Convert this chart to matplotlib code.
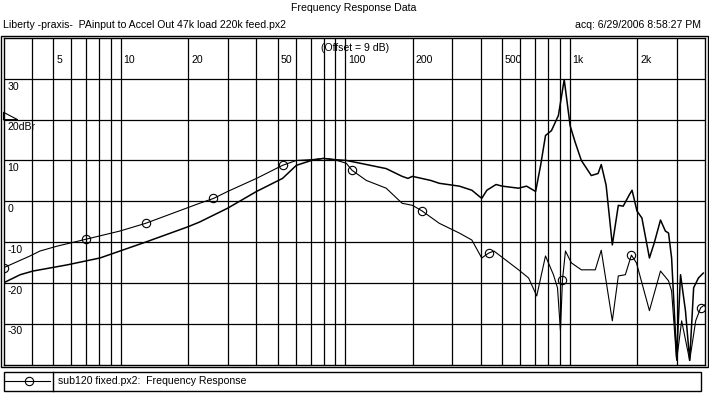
import matplotlib.pyplot as plt
from matplotlib.patches import Rectangle
from matplotlib.lines import Line2D
import matplotlib.transforms as mtransforms

plt.rcParams['font.family'] = ['Liberation Sans', 'DejaVu Sans']
plt.rcParams['font.size'] = 7.6

# curve with markers: sub120 fixed.px2
f_sub = [3.0, 3.94, 4.36, 5.2, 7.0, 9.9, 12.9, 22.4, 25.9, 29.9, 40.2, 52.5,
         60.5, 70.6, 79.8, 89.3, 101, 107, 124, 152, 179, 199, 220, 262, 322,
         366, 405, 435, 459, 518, 591, 655, 712, 779, 845, 881, 908, 927, 956,
         1016, 1125, 1298, 1380, 1546, 1644, 1767, 1880, 1980, 2262, 2534,
         2752, 2840, 2990, 3148, 3418, 3636, 3826, 3980]
db_sub = [-16.3, -13.4, -12.2, -11.0, -9.3, -7.3, -5.4, -0.5, 0.7, 2.4, 5.6, 8.8,
          10.0, 10.2, 10.5, 10.2, 9.3, 7.6, 5.1, 3.2, -0.5, -1.0, -2.4, -5.4, -7.8,
          -9.5, -13.9, -12.7, -12.2, -14.4, -16.8, -18.8, -23.2, -13.4, -18.0, -21.2, -31.7, -19.3, -12.2,
          -15.1, -16.8, -16.8, -12.0, -29.3, -18.3, -18.0, -13.2, -15.1, -26.8, -17.1,
          -19.5, -22.0, -39.0, -29.3, -39.0, -29.3, -26.1, -25.4]

# marker positions on that curve
f_mark = [3.0, 7.0, 12.9, 25.7, 52.5, 107, 220, 435, 927, 1880, 3826]
db_mark = [-16.3, -9.3, -5.4, 0.9, 8.8, 7.6, -2.4, -12.7, -19.3, -13.2, -26.1]

# second curve, no markers
f_acc = [3.0, 3.56, 4.06, 5.75, 8.07, 9.9, 12.9, 19.8, 22.4, 29.9, 40.2, 52.5,
         60.5, 70.6, 79.8, 89.3, 101, 124, 152, 179, 190, 199, 240, 262, 322,
         366, 405, 427, 469, 500, 591, 641, 704, 741, 779, 828, 889, 944,
         1003, 1054, 1125, 1246, 1336, 1380, 1451, 1546, 1644, 1729, 1837,
         1893, 1991, 2094, 2262, 2377, 2534, 2664, 2752, 2840, 2990, 3112,
         3273, 3418, 3560, 3740, 3930]
db_acc = [-20.0, -18.0, -17.1, -15.6, -13.9, -12.2, -10.0, -6.3, -5.1, -1.7, 2.4, 5.6,
          8.8, 10.0, 10.5, 10.2, 10.0, 9.0, 8.0, 6.1, 5.6, 6.1, 5.1, 4.4, 3.7,
          2.7, 0.7, 2.7, 4.1, 3.7, 3.2, 3.7, 2.4, 8.8, 16.1, 17.3, 21.0, 29.8,
          18.5, 14.6, 10.0, 6.3, 6.8, 9.0, 3.9, -10.7, -1.0, -1.2, 1.5,
          2.7, -2.4, -4.1, -13.9, -10.2, -4.6, -7.3, -7.8, -13.9, -38.3, -18.0,
          -26.8, -39.0, -21.2, -18.8, -17.6]

xgrid = [4, 5, 6, 7, 8, 9, 10, 20, 30, 40, 50, 60, 70, 80, 90, 100,
         200, 300, 400, 500, 600, 700, 800, 900, 1000, 2000, 3000]
xlab_pos = [5, 10, 20, 50, 100, 200, 500, 1000, 2000]
xlab_txt = ['5', '10', '20', '50', '100', '200', '500', '1k', '2k']
ygrid = [-30, -20, -10, 0, 10, 20, 30]
ylab_txt = ['-30', '-20', '-10', '0', '10', '20dBr', '30']

W, H = 709, 395
fig = plt.figure(figsize=(W / 100, H / 100), dpi=100)
ax = fig.add_axes([3.5 / W, 1 - 364.5 / H, 701.5 / W, 326.5 / H])
ax.set_xscale('log')
ax.set_xlim(3, 4000)
ax.set_ylim(-40, 40)
ax.set_xticks([])
ax.set_yticks([])
ax.minorticks_off()
for s in ax.spines.values():
    s.set_linewidth(1.0)

for g in xgrid:
    ax.axvline(g, color='black', lw=0.9, zorder=1)
for g in ygrid:
    ax.axhline(g, color='black', lw=0.9, zorder=1)

ax.plot(f_acc, db_acc, color='black', lw=1.1, zorder=3)
ax.plot(f_sub, db_sub, color='black', lw=0.8, zorder=3)
ax.plot(f_mark, db_mark, ls='none', marker='o', ms=6, mfc='none', mec='black',
        mew=0.8, zorder=4)

# tick labels inside the plot
for p, t in zip(xlab_pos, xlab_txt):
    ax.annotate(t, (p, 40), xytext=(2, -16), textcoords='offset points',
                ha='left', va='center')
yt = mtransforms.blended_transform_factory(ax.transAxes, ax.transData)
for g, t in zip(ygrid, ylab_txt):
    ax.annotate(t, (0, g), xycoords=yt, xytext=(3, -2), textcoords='offset points',
                ha='left', va='top')
ax.text(0.452, 0.985, '(Offset = 9 dB)', transform=ax.transAxes,
        ha='left', va='top')

# reference level marker
ax.plot([0, 0, 0.02, 0], [20, 21.8, 20, 20], transform=yt, color='black',
        lw=0.8, clip_on=False)

# outer frame
fig.patches.append(Rectangle((1 / W, 1 - 367 / H), 707 / W, 331 / H,
                             transform=fig.transFigure, fill=False,
                             ec='black', lw=1.0))

# header texts
fig.text(354 / W, 1 - 8 / H, 'Frequency Response Data', ha='center', va='center')
fig.text(3 / W, 1 - 25 / H, 'Liberty -praxis-  PAinput to Accel Out 47k load 220k feed.px2',
         ha='left', va='center')
fig.text(701 / W, 1 - 25 / H, 'acq: 6/29/2006 8:58:27 PM', ha='right', va='center')

# legend box
fig.patches.append(Rectangle((4 / W, 1 - 391 / H), 697 / W, 19 / H,
                             transform=fig.transFigure, fill=False,
                             ec='black', lw=1.0))
fig.lines.append(Line2D([53.5 / W, 53.5 / W], [1 - 391 / H, 1 - 372 / H],
                        transform=fig.transFigure, color='black', lw=1.0))
fig.lines.append(Line2D([5 / W, 50 / W], [1 - 381 / H, 1 - 381 / H],
                        transform=fig.transFigure, color='black', lw=0.8))
fig.lines.append(Line2D([29 / W], [1 - 381 / H], transform=fig.transFigure,
                        ls='none', marker='o', ms=6, mfc='none', mec='black', mew=0.8))
fig.text(58 / W, 1 - 381 / H, 'sub120 fixed.px2:  Frequency Response',
         ha='left', va='center')

fig.savefig('out.png', dpi=100)
